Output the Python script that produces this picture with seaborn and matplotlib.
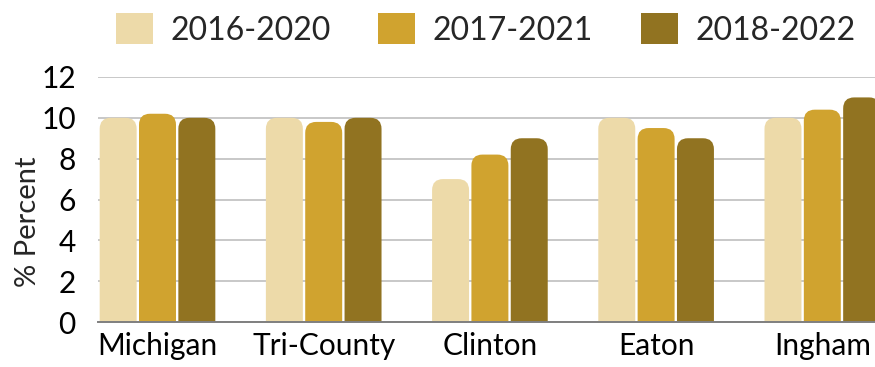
import matplotlib
matplotlib.use("Agg")
import matplotlib.pyplot as plt
from matplotlib.patches import FancyBboxPatch
import pandas as pd
import seaborn as sns

# Share of population (%) by area and 5-year estimate period
areas = ["Michigan", "Tri-County", "Clinton", "Eaton", "Ingham"]
periods = ["2016-2020", "2017-2021", "2018-2022"]
values_2016_2020 = [10.0, 10.0, 7.0, 10.0, 10.0]
values_2017_2021 = [10.2, 9.8, 8.2, 9.5, 10.4]
values_2018_2022 = [10.0, 10.0, 9.0, 9.0, 11.0]
y_ticks = [0, 2, 4, 6, 8, 10, 12]
palette = ["#EDDAA9", "#D0A32F", "#917321"]

df = pd.DataFrame({
    "Area": areas * 3,
    "Period": [p for p in periods for _ in areas],
    "Value": values_2016_2020 + values_2017_2021 + values_2018_2022,
})

sns.set_theme(style="white")
plt.rcParams["font.family"] = ["Lato", "DejaVu Sans"]

W, H, DPI = 875, 367, 100
fig = plt.figure(figsize=(W / DPI, H / DPI), dpi=DPI)
left, right, top, bottom = 98, 875, 77, 322
ax = fig.add_axes([left / W, 1 - bottom / H, (right - left) / W, (bottom - top) / H])

sns.barplot(data=df, x="Area", y="Value", hue="Period", hue_order=periods,
            palette=palette, saturation=1, width=0.71, gap=0.06, linewidth=0,
            ax=ax, legend=True)

ax.set_ylim(0, 12)
ax.set_xlim(-0.358, 4.317)
ax.set_yticks(y_ticks)
ax.set_yticklabels([str(t) for t in y_ticks])

# Rounded tops for the bars
px_x = (ax.get_xlim()[1] - ax.get_xlim()[0]) / (right - left)
px_y = 12 / (bottom - top)
r_px = 11
rx, ry = r_px * px_x, r_px * px_y
bars = [p for p in ax.patches if p.get_height() > 0 and p.get_width() < 1]
for b in bars:
    x0, w, h = b.get_x(), b.get_width(), b.get_height()
    fc = b.get_facecolor()
    b.set_visible(False)
    rp = FancyBboxPatch((x0, -ry), w, h + ry,
                        boxstyle=f"round,pad=0,rounding_size={rx}",
                        mutation_aspect=ry / rx,
                        facecolor=fc, edgecolor="none", zorder=3)
    ax.add_patch(rp)

ax.grid(axis="y", color="#C8C8C8", linewidth=1.4, zorder=0)
ax.set_axisbelow(True)
for s in ["top", "right", "left"]:
    ax.spines[s].set_visible(False)
ax.spines["bottom"].set_color("#7F7F7F")
ax.spines["bottom"].set_linewidth(1.4)
ax.spines["bottom"].set_zorder(4)

ax.tick_params(axis="both", length=0, labelsize=21.5, colors="#000000")
ax.tick_params(axis="y", pad=16)
ax.tick_params(axis="x", pad=7)
ax.set_xlabel("")
ax.set_ylabel("% Percent", fontsize=21)
ax.yaxis.set_label_coords(-0.0735, 0.41)

handles, labels = ax.get_legend_handles_labels()
ax.get_legend().remove()
fig.legend(handles, labels, loc="center", bbox_to_anchor=(0.555, 1 - 29.5 / H),
           ncol=3, frameon=False, fontsize=23,
           handlelength=1.15, handleheight=1.1, handletextpad=0.55,
           columnspacing=1.5)

fig.savefig("out.png", dpi=DPI)
